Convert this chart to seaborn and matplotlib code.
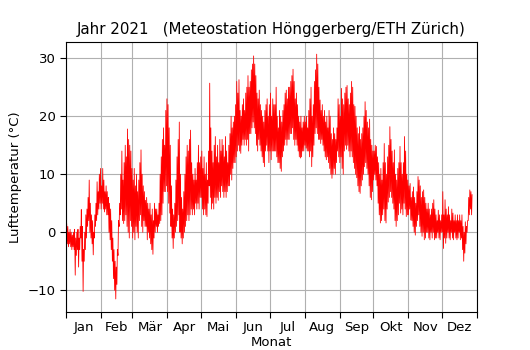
import numpy as np
import pandas as pd
import matplotlib
matplotlib.use("Agg")
import matplotlib.pyplot as plt
import seaborn as sns

# Daily temperature extremes (°C), Meteostation Hönggerberg 2021
jan_max = [1.5, 1, 0, 0.5, 0, -0.5, 0, 0.5, -1, 0, 0.5, -1, 1, 3.9, 1, -3, 0, 3, 4, 6, 9, 5, 3, 2, 0, 3, 5, 8.7, 7, 10, 11]
jan_min = [-1, -2, -2.5, -2, -2.5, -3, -2.5, -3, -7.4, -4, -3, -6, -3, -1, -5, -10.2, -5, -3, -1, 1, 2, 0, -1, -2, -3.9, -1, 1, 2, 3, 4, 5]
feb_max = [8, 11, 9, 7, 8, 7, 6, 5, 4, 2, -1, -3, -5, -6, -3, 2, 5, 10, 14, 9, 12, 15, 13, 17.8, 16, 15, 14, 11]
feb_min = [4, 5, 4, 3.5, 4, 3, 3, 0, -1.3, -3, -5, -8, -10, -11.5, -9, -4, 1, 3, 4, 2, 1.5, 2, 3, 1, 0, -1, 2, 1]
mar_max = [9, 11, 8, 10, 7, 9, 12, 14.2, 10, 8, 7, 5.5, 6, 5, 4, 5, 3, 4, 2, 5, 4, 4, 3, 5, 10, 13, 16, 18, 15, 21, 23]
mar_min = [-1, 0, -1.3, 1, 0, -1, 2, 3, 1, 0, 2, 1, 1, -1.3, 0, -1, -2, -3, -3.8, -1, 0, 1, 0, 1, 1.5, 2, 3, 5, 7, 7, 8]
apr_max = [22, 18, 15, 8, 4, 3, 5, 9, 13, 16, 19, 10, 6, 4, 7, 10, 13, 15, 14, 16, 17.6, 12, 10, 9, 11, 9, 12, 15, 12, 13]
apr_min = [7, 5, 3.3, 1, -1, -2.8, -1, 0, 1, 2, 3, 0, -1, -2, -1, 0, 1, 2, 3, 2, 3, 4, 3, 4, 3, 5, 4, 5, 4, 6]
may_max = [14, 11, 13, 10, 12, 9, 14, 25.7, 18, 14, 12, 15, 16.5, 13, 15, 12, 16, 14, 16, 15, 13, 16.5, 14, 12, 15, 17, 20, 18, 19, 20, 22]
may_min = [6, 4, 3, 4, 3, 2.7, 5, 8, 6, 4, 5, 4, 6, 5, 6, 5.5, 7, 6, 8, 7, 6, 7, 6, 7, 8, 8, 10, 9, 11, 12, 12]
jun_max = [26, 24, 26.3, 21, 20, 22, 23, 21, 24, 25, 27, 25, 26, 28, 29, 30.4, 29, 27, 24, 23, 24.5, 22, 21, 20, 19, 21, 22, 23, 20, 22]
jun_min = [13, 14, 15, 14, 13.6, 15, 16, 15, 16, 15, 16, 14, 17, 17, 18, 19, 18, 17, 15, 14, 16, 15, 14, 13, 12, 11.3, 14, 15, 14, 12]
jul_max = [24, 20, 23, 22, 22, 25, 20, 18, 21, 20, 19, 21, 22, 24, 24.5, 23, 25, 25, 26, 27, 28.1, 26, 23, 24, 22, 20, 19, 20, 18, 19, 20]
jul_min = [14, 12.5, 14, 14, 14, 14, 13, 12, 12, 11, 10.5, 13, 14, 15, 16, 15, 16, 16, 17, 17, 18, 16, 15, 16, 15, 14, 13, 12.8, 13, 14, 14]
aug_max = [19, 20, 18, 21, 23, 25, 20, 22, 26, 28, 30.7, 29, 25, 22.8, 21, 22, 20, 21, 19, 20, 18, 21, 20, 17, 16, 18, 17, 16, 18, 23, 22]
aug_min = [15, 14.5, 14, 14, 13, 14, 11.3, 13, 15, 17, 18, 17, 16, 16, 15.3, 16, 15, 14, 13, 12.5, 13, 12, 11, 10, 9.3, 10, 11, 10, 12, 14, 13]
sep_max = [20, 24.8, 23, 22, 24, 25, 25.3, 23, 22, 24, 26, 25, 22, 21.7, 20, 18, 17, 18.2, 16, 17, 18, 20, 22.5, 21, 19, 18, 19.5, 16, 15, 14]
sep_min = [12, 13, 11, 10, 14, 15, 14.3, 15, 14, 13, 14, 13, 12, 11, 10, 9.4, 8, 7, 6.7, 8, 9, 10, 11.3, 12, 11, 10, 8, 6, 5.6, 7]
oct_max = [14, 15, 14.8, 13, 12, 10, 11, 9, 12, 15.3, 12, 10, 13, 15, 18.2, 16, 14, 12, 14.2, 10, 9, 11, 12, 14.8, 12, 10, 12, 16.5, 14, 10, 9]
oct_min = [9, 10, 9, 8, 5, 3, 1.6, 2, 3, 4, 2, 1.6, 4, 5.2, 6, 7, 6, 5, 4, 2, 1, 2, 3, 5, 3.3, 4, 3, 5, 4, 2.7, 3]
nov_max = [8, 8.4, 6, 7, 7.8, 6, 5, 7, 9.6, 9, 8, 6, 7, 7.3, 6, 5, 4, 5, 4, 3, 4, 5, 5.6, 4, 3, 2, 3.8, 3, 2, 3]
nov_min = [3, 4, 2.1, 2, 1, 0, -0.5, 1, 2, 3, 1, 0, -0.7, 0, -1.3, -1, 0, 0, -1, -1.3, 0, -1, 0, -1.3, -1, -1, 0, -1, -1.3, 0]
dec_max = [7, 3, 5.6, 4, 3, 4.4, 3, 2, 4, 3.3, 2, 3, 2, 3, 2, 3, 2, 3, 1, 0, 1.8, 1, 2, 6, 7.3, 7, 6.5]
dec_min = [0, -2.8, -1, -1.9, -1, 0, -1, -1.3, 0, -1, -1.3, 0, -1, -1.3, -1, 0, -1.3, -1, -3, -5, -3.6, -2, 0, 2, 3, 4, 3]

month_labels = ["Jan", "Feb", "Mär", "Apr", "Mai", "Jun", "Jul", "Aug", "Sep", "Okt", "Nov", "Dez"]

daily_max = jan_max + feb_max + mar_max + apr_max + may_max + jun_max + jul_max + aug_max + sep_max + oct_max + nov_max + dec_max
daily_min = jan_min + feb_min + mar_min + apr_min + may_min + jun_min + jul_min + aug_min + sep_min + oct_min + nov_min + dec_min

days = pd.date_range("2021-01-01", periods=len(daily_max), freq="D")
# Each day: morning minimum, afternoon maximum
times = []
temps = []
for d, lo, hi in zip(days, daily_min, daily_max):
    times.append(d + pd.Timedelta(hours=5))
    temps.append(lo)
    times.append(d + pd.Timedelta(hours=15))
    temps.append(hi)
df = pd.DataFrame({"Zeit": times, "Temperatur": temps})

sns.set_style("white")
plt.rcParams["font.family"] = ["DejaVu Sans"]
plt.rcParams["text.color"] = "black"
plt.rcParams["axes.labelcolor"] = "black"
plt.rcParams["xtick.color"] = "black"
plt.rcParams["ytick.color"] = "black"

fig = plt.figure(figsize=(5.3, 3.5), dpi=100)
ax = fig.add_axes([0.1245, 0.1086, 0.7755, 0.7714])

sns.lineplot(data=df, x="Zeit", y="Temperatur", color="red", linewidth=0.6, ax=ax)

ax.set_xlim(pd.Timestamp("2021-01-01"), pd.Timestamp("2022-01-01"))
ax.set_ylim(-13.75, 32.8)
ax.set_yticks([-10, 0, 10, 20, 30])

month_starts = pd.date_range("2021-01-01", "2022-01-01", freq="MS")
mid_months = [s + (e - s) / 2 for s, e in zip(month_starts[:-1], month_starts[1:])]
ax.set_xticks(month_starts)
ax.set_xticklabels([])
ax.set_xticks(mid_months, minor=True)
ax.set_xticklabels(month_labels, minor=True)
ax.tick_params(axis="x", which="minor", length=0, labelsize=9.5, pad=6.5, colors="black")
ax.tick_params(axis="x", which="major", length=4, width=0.8, direction="out", bottom=True, colors="black")
ax.tick_params(axis="y", length=4, width=0.8, direction="out", left=True, labelsize=9.5, colors="black")

ax.grid(True, which="major", color="#b0b0b0", linewidth=0.8)
ax.set_axisbelow(True)
for sp in ax.spines.values():
    sp.set_color("black")
    sp.set_linewidth(0.8)

ax.set_xlabel("Monat", fontsize=9.5, labelpad=1.5, color="black")
ax.set_ylabel("Lufttemperatur (°C)", fontsize=9.5, color="black")
ax.set_title("Jahr 2021   (Meteostation Hönggerberg/ETH Zürich)", fontsize=10.8, color="black")

fig.savefig("out.png", dpi=100)
